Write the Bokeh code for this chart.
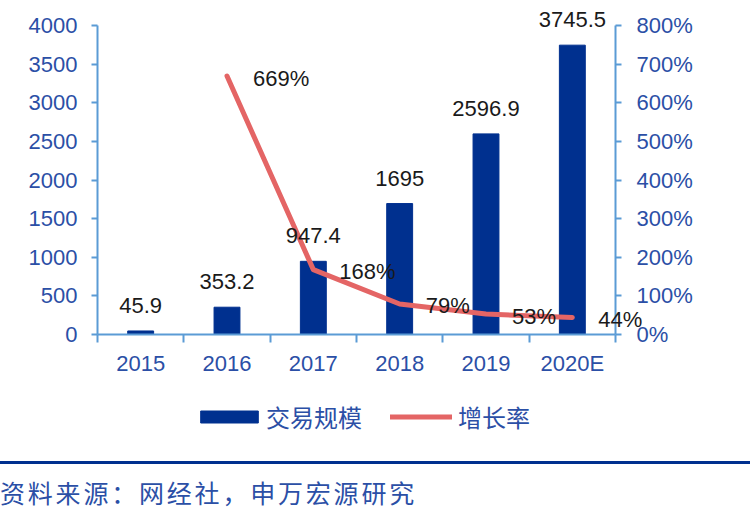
from bokeh.plotting import figure
from bokeh.models import (Range1d, LinearAxis, FixedTicker, CustomJSTickFormatter,
                          ColumnDataSource, LabelSet, Legend, LegendItem, Div)
from bokeh.core.properties import value
from bokeh.layouts import column
from bokeh.embed import file_html
from bokeh.resources import INLINE

# ---- data ----
years = ["2015", "2016", "2017", "2018", "2019", "2020E"]
volume = [45.9, 353.2, 947.4, 1695, 2596.9, 3745.5]
growth_years = ["2016", "2017", "2018", "2019", "2020E"]
growth_pct = [669, 168, 79, 53, 44]
left_ticks = [0, 500, 1000, 1500, 2000, 2500, 3000, 3500, 4000]
right_ticks = [0, 100, 200, 300, 400, 500, 600, 700, 800]
legend_labels = ["交易规模", "增长率"]
source_text = "资料来源：网经社，申万宏源研究"

# ---- style / layout ----
BAR = "#00308F"
LINE = "#E46565"
AXIS = "#5B9BD5"
TICKTXT = "#2B4FA6"
NUMFONT = "Liberation Sans"
CJK = "Noto Sans CJK SC"
NUMSIZE = "22px"

W, H = 750, 461
BOX_L, BOX_R, BOX_T, BOX_B = 97, 615, 25, 334   # pixel box of the axes
NCAT = len(years)
YMAX, PMAX = left_ticks[-1], right_ticks[-1]

ppx = (BOX_R - BOX_L) / NCAT
ppy = (BOX_B - BOX_T) / YMAX
x_rng = Range1d(-BOX_L / ppx, NCAT + (W - BOX_R) / ppx)
y_rng = Range1d(-(H - BOX_B) / ppy, YMAX + BOX_T / ppy)
k = PMAX / YMAX
p_rng = Range1d(y_rng.start * k, y_rng.end * k)

xc = [years.index(y) + 0.5 for y in years]
gx = [years.index(y) + 0.5 for y in growth_years]

p = figure(width=W, height=H, output_backend="svg", toolbar_location=None,
           x_range=x_rng, y_range=y_rng, x_axis_location=None, y_axis_location=None,
           min_border=0, outline_line_color=None)
p.extra_y_ranges = {"pct": p_rng}
p.grid.visible = False

bars = p.vbar(x=xc, top=volume, width=0.3, fill_color=BAR, line_color=BAR)
line = p.line(x=gx, y=growth_pct, y_range_name="pct", line_color=LINE,
              line_width=5, line_join="round", line_cap="round")


def style(ax):
    ax.axis_line_color = AXIS
    ax.axis_line_width = 2
    ax.major_tick_line_color = AXIS
    ax.major_tick_line_width = 2
    ax.minor_tick_line_color = AXIS
    ax.minor_tick_line_width = 2
    ax.major_tick_in = 0
    ax.minor_tick_in = 0
    ax.minor_tick_out = 0
    ax.major_label_text_font = NUMFONT
    ax.major_label_text_font_size = NUMSIZE
    ax.major_label_text_color = TICKTXT


# x axis: labels at category centres, ticks at category boundaries
xa = LinearAxis(fixed_location=0, bounds=(0, NCAT),
                ticker=FixedTicker(ticks=xc, minor_ticks=list(range(NCAT + 1))),
                formatter=CustomJSTickFormatter(args=dict(labels=years),
                                                code="return labels[Math.floor(tick)];"))
style(xa)
xa.major_tick_out = 0
xa.minor_tick_out = 8
xa.major_label_standoff = 8
p.add_layout(xa, "below")

ya = LinearAxis(fixed_location=0, bounds=(0, YMAX), ticker=FixedTicker(ticks=left_ticks))
style(ya)
ya.major_tick_out = 6
ya.major_label_standoff = 14
p.add_layout(ya, "left")

ra = LinearAxis(fixed_location=NCAT, y_range_name="pct", bounds=(0, PMAX),
                ticker=FixedTicker(ticks=right_ticks),
                formatter=CustomJSTickFormatter(code="return tick + '%';"))
style(ra)
ra.major_tick_out = 6
ra.major_label_standoff = 15
p.add_layout(ra, "right")

# data labels
bsrc = ColumnDataSource(dict(x=xc, y=volume, t=[f"{v:g}" for v in volume]))
p.add_layout(LabelSet(x="x", y="y", text="t", source=bsrc, y_offset=18,
                      text_align="center", text_baseline="alphabetic",
                      text_font=value(NUMFONT), text_font_size=NUMSIZE, text_color="#1a1a1a"))
gsrc = ColumnDataSource(dict(x=gx, y=growth_pct, t=[f"{v}%" for v in growth_pct]))
p.add_layout(LabelSet(x="x", y="y", text="t", source=gsrc, y_range_name="pct",
                      x_offset=26, y_offset=-2, text_align="left", text_baseline="middle",
                      text_font=value(NUMFONT), text_font_size=NUMSIZE, text_color="#1a1a1a"))

# legends (location = bottom-left corner, px from frame bottom-left)
common = dict(padding=0, margin=0, spacing=0, border_line_color=None,
              background_fill_alpha=0, label_text_font=CJK,
              label_text_font_size="24px", label_text_color=TICKTXT)
leg1 = Legend(items=[LegendItem(label=legend_labels[0], renderers=[bars])],
              location=(193, H - 434), glyph_width=72, glyph_height=15,
              label_standoff=1, **common)
leg2 = Legend(items=[LegendItem(label=legend_labels[1], renderers=[line])],
              location=(390, H - 434), glyph_width=62, glyph_height=15,
              label_standoff=6, **common)
p.add_layout(leg1)
p.add_layout(leg2)

src = Div(text=(f'<div style="width:750px;border-top:3px solid {BAR};padding-top:12px;'
                f'font-family:\'{CJK}\';font-size:25px;line-height:32px;letter-spacing:2.8px;'
                f'color:{TICKTXT};white-space:nowrap;">{source_text}</div>'),
          width=750, height=60, margin=(0, 0, 0, 0))

layout = column(p, src, spacing=0)
open("out.html", "w").write(file_html(layout, INLINE))
